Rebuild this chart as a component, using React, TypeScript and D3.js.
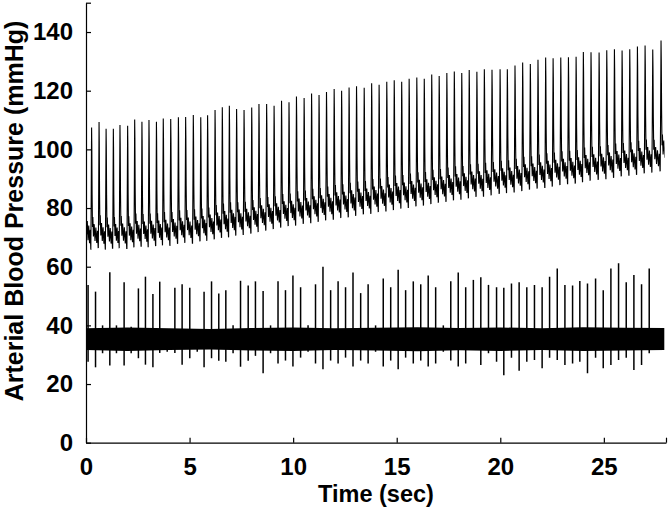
import React, { useEffect, useRef } from "react";
import * as d3 from "d3";

// ---- Data ----
// Lead-in beat (partially visible at t = 0)
const leadInTime = -0.05;
const leadInPeak = 113;
const leadInDia = 66.5;

// Systolic peak times (s)
const beatTimes = [
  0.27, 0.63, 0.97, 1.32, 1.64, 2.01, 2.35, 2.70, 3.04, 3.40, 3.73, 4.09, 4.46,
  4.81, 5.18, 5.54, 5.87, 6.23, 6.58, 6.92, 7.27, 7.63, 8.00, 8.35, 8.72, 9.08,
  9.44, 9.80, 10.16, 10.53, 10.89, 11.25, 11.61, 11.98, 12.34, 12.70, 13.06,
  13.43, 13.79, 14.15, 14.52, 14.88, 15.24, 15.60, 15.97, 16.33, 16.69, 17.05,
  17.42, 17.78, 18.14, 18.50, 18.87,
  19.23, 19.60, 19.99, 20.34, 20.71, 21.08, 21.45, 21.82, 22.19, 22.55, 22.92,
  23.29, 23.66, 24.01, 24.38, 24.77, 25.14, 25.51, 25.88, 26.25, 26.62, 26.99,
  27.36, 27.76,
];

// Systolic peak pressure (mmHg)
const systolic = [
  107.4, 109.4, 107, 107, 108.3, 108, 110.2, 109.4, 110, 109.4, 110.5, 110.3,
  110.9, 111.1, 111.6, 110.9, 111.6, 113.4, 114.3, 114.8, 113.7, 113.4, 114.2,
  115.4, 115.4, 114.8,
  116.5, 116, 118, 117.5, 119, 118.5, 119.5, 120.5, 120, 121, 121.5, 121, 122.5,
  122, 123, 123.5, 123, 124, 124.5, 124, 125.5, 125, 126, 126.5, 126, 127, 126.5,
  127.3, 127.1, 127.3, 127.3, 128.5, 129.6, 129.1, 130.5, 131.3, 131.0, 131.3,
  131.4, 131.5, 133.1, 133.1, 133.0, 133.7, 134.1, 133.7, 134.1, 135.0, 135.4,
  134.0, 136.8,
];

// End-diastolic pressure before each upstroke (mmHg)
const diastolic = [
  66, 66.5, 66, 66.3, 66.5, 66.2, 66.8, 67, 66.8, 67.2, 67.5, 67.3, 68, 68.3, 68,
  68.8, 69, 69.5, 70, 70.2, 70.8, 71, 71.5, 72, 72.5, 73,
  73.5, 74, 74.2, 74.8, 75, 75.5, 76, 76.2, 76.8, 77, 77.5, 78, 78.2, 78.8, 79,
  79.5, 80, 80.2, 80.8, 81, 81.5, 82, 82.3, 82.8, 83, 83.5, 84,
  84, 84.5, 85, 85.3, 85.5, 86, 86.5, 86.8, 87, 87.5, 88, 88.3, 88.5, 89, 89.5,
  89.8, 90, 90.5, 91, 91.2, 91.5, 92, 92.3, 92.7,
];

// Relative beat contour: [fraction of beat period from peak, fraction of pulse]
const beatShape: [number, number][] = [
  [-0.1, 0.0],
  [-0.06, 0.35],
  [0.0, 1.0],
  [0.03, 0.85],
  [0.07, 0.45],
  [0.12, 0.18],
  [0.17, 0.26],
  [0.25, 0.1],
  [0.35, 0.2],
  [0.46, 0.06],
  [0.57, 0.17],
  [0.69, 0.04],
  [0.79, 0.14],
  [0.88, 0.0],
];

const traceEnd = 27.93;
const lastDia = 96;

// Lower trace: spike delay before each pressure peak (s)
const ecgLag = 0.17;
const ecgUp = [
  53.8, 51.5, 40, 58.1, 40, 54.7, 39.5, 52.6, 56.6, 50.7, 54.9, 38.5, 52.8, 54,
  52.8, 38.5, 51.5, 55, 50.9, 52, 40, 55.2, 53.6, 55, 51.7, 40, 55,
  52, 57, 53, 40, 54, 60, 52, 55, 53, 58, 51, 54, 40, 56, 53, 59, 52, 55, 54, 57,
  53, 40, 55, 58, 53,
  55.5, 56.4, 53.8, 53, 52.8, 54.3, 54.7, 53, 53.8, 53, 56.6, 59.4, 53.8, 53.6,
  55.1, 54.3, 56, 52, 59.4, 61.2, 54.7, 57.2, 54, 59.4,
];
const ecgDown = [
  27.6, 25.7, 30.5, 26.3, 30.5, 26.3, 30.5, 28.8, 26.6, 25.7, 30.6, 31, 30.6,
  26.6, 28.8, 31, 25.7, 28.8, 27.9, 27.6, 30.5, 25.9, 27.9, 29.6, 23.7, 30.5, 27,
  28, 26, 29, 31, 27, 25, 28, 27, 29, 26, 28, 27, 31, 26, 28, 25, 29, 27, 28, 26,
  27, 31, 28, 26, 27,
  31.6, 26.5, 30.5, 27.6, 23, 29, 24.5, 27.6, 28.2, 25.4, 29, 28.2, 26.5, 27,
  27.6, 23.7, 29, 25.4, 26.5, 28.2, 29, 24.8, 26.5, 30.5,
];
// Noise band envelope of the lower trace, every 2 s
const bandTimes = [0, 2, 4, 6, 8, 10, 12, 14, 16, 18, 20, 22, 24, 26, 27.93];
const bandUpper = [39, 39.3, 39, 38.8, 39.1, 39.3, 39, 39.2, 39.4, 39.1, 39.3, 39, 39.4, 39.2, 39.1];
const bandLower = [31.6, 31.3, 31.6, 31.8, 31.4, 31.3, 31.6, 31.4, 31.2, 31.5, 31.3, 31.6, 31.3, 31.4, 31.6];

const xTicks = [0, 5, 10, 15, 20, 25, 28];
const yTicks = [0, 20, 40, 60, 80, 100, 120, 140, 150];

const W = 670;
const H = 512;
const FONT = "'Liberation Sans', Arial, Helvetica, sans-serif";
const TICK_FS = 24;
const XTITLE_FS = 23.5;
const YTITLE_FS = 25;

export default function App() {
  const xAxisRef = useRef<SVGGElement>(null);
  const yAxisRef = useRef<SVGGElement>(null);

  const x = d3.scaleLinear().domain([0, 28]).range([86, 666]);
  const y = d3.scaleLinear().domain([0, 150]).range([442.7, 2.7]);

  // build pressure trace
  const times = [leadInTime, ...beatTimes];
  const peaks = [leadInPeak, ...systolic];
  const dias = [leadInDia, ...diastolic];
  const pts: [number, number][] = [];
  for (let i = 0; i < times.length; i++) {
    const t = times[i];
    const next = i + 1 < times.length ? times[i + 1] : t + (t - times[i - 1]);
    const P = next - t;
    const d0 = dias[i];
    const d1 = i + 1 < dias.length ? dias[i + 1] : lastDia;
    const pulse = peaks[i] - d0;
    for (const [f, lv] of beatShape) {
      const w = f + 0.1;
      const base = d0 + (d1 - d0) * w;
      pts.push([t + f * P, base + lv * pulse]);
    }
  }
  const line = d3
    .line<[number, number]>()
    .x((d) => x(d[0]))
    .y((d) => y(d[1]));

  const band = d3
    .area<number>()
    .x((_, i) => x(bandTimes[i]))
    .y0((_, i) => y(bandLower[i]))
    .y1((_, i) => y(bandUpper[i]));

  useEffect(() => {
    if (xAxisRef.current) {
      const ax = d3
        .axisBottom(x)
        .tickValues(xTicks)
        .tickSizeInner(-5)
        .tickSizeOuter(0)
        .tickPadding(15)
        .tickFormat((d) => (d === 28 ? "" : String(d)));
      const g = d3.select(xAxisRef.current);
      g.call(ax as any);
      g.selectAll("text")
        .attr("font-family", FONT)
        .attr("font-weight", "bold")
        .attr("font-size", TICK_FS)
        .attr("fill", "#000");
      g.selectAll("line, path").attr("stroke", "#000").attr("stroke-width", 1.2);
    }
    if (yAxisRef.current) {
      const ay = d3
        .axisLeft(y)
        .tickValues(yTicks)
        .tickSizeInner(-5)
        .tickSizeOuter(0)
        .tickPadding(13)
        .tickFormat((d) => (d === 150 ? "" : String(d)));
      const g = d3.select(yAxisRef.current);
      g.call(ay as any);
      g.selectAll("text")
        .attr("font-family", FONT)
        .attr("font-weight", "bold")
        .attr("font-size", TICK_FS)
        .attr("fill", "#000");
      g.selectAll("line, path").attr("stroke", "#000").attr("stroke-width", 1.2);
    }
  });

  return (
    <svg
      width={W}
      height={H}
      style={{ position: "absolute", left: 0, top: 0, background: "#fff" }}
    >
      <defs>
        <clipPath id="plotClip">
          <rect x={x(0)} y={0} width={x(traceEnd) - x(0)} height={H} />
        </clipPath>
      </defs>
      <g clipPath="url(#plotClip)">
        <path d={line(pts) || ""} fill="none" stroke="#000" strokeWidth={1.1} />
        <path d={band(bandTimes) || ""} fill="#000" />
        {beatTimes.map((t, i) => (
          <line
            key={i}
            x1={x(t - ecgLag)}
            x2={x(t - ecgLag)}
            y1={y(ecgDown[i])}
            y2={y(ecgUp[i])}
            stroke="#000"
            strokeWidth={1.5}
          />
        ))}
      </g>
      <g ref={xAxisRef} transform={`translate(0,${y(0)})`} />
      <g ref={yAxisRef} transform={`translate(${x(0)},0)`} />
      <text
        x={x(14)}
        y={502}
        textAnchor="middle"
        fontFamily={FONT}
        fontWeight="bold"
        fontSize={XTITLE_FS}
      >
        Time (sec)
      </text>
      <text
        transform={`translate(23,${211}) rotate(-90)`}
        textAnchor="middle"
        fontFamily={FONT}
        fontWeight="bold"
        fontSize={YTITLE_FS}
      >
        Arterial Blood Pressure (mmHg)
      </text>
    </svg>
  );
}
